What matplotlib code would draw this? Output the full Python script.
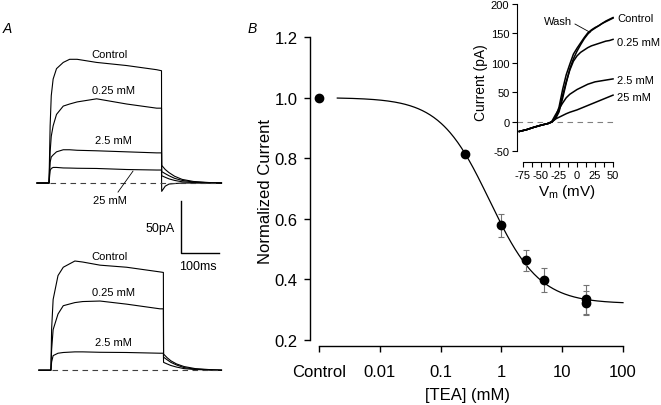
import matplotlib
matplotlib.use("Agg")
import matplotlib.pyplot as plt
import matplotlib.ticker as mticker
import numpy as np

plt.rcParams["font.family"] = ["Liberation Sans", "DejaVu Sans"]
plt.rcParams["mathtext.fontset"] = "custom"
plt.rcParams["mathtext.rm"] = "Liberation Sans"
plt.rcParams["axes.unicode_minus"] = False

W, H = 661, 406

# ---- panel A: current traces (ms, pA) ----
t_top = [-32, 0, 3, 6, 11, 20, 38, 55, 75, 127, 207, 287, 300, 300.5, 310, 320, 335, 355, 385, 425, 460]
top_control = [0, 0, 55, 84, 100, 110, 116, 119, 119, 116, 113, 109, 108, 17, 13, 10, 6.5, 3.5, 1.5, 0.5, 0]
top_025 = [0, 0, 30, 45, 55, 66, 74, 76, 78, 81, 76, 72, 72, 11, 9, 7, 4.5, 2.5, 1, 0.3, 0]
top_25 = [0, 0, 20, 25, 27, 30, 32, 32, 31.5, 31, 30, 29, 29, 7, 5.5, 4, 2.5, 1.2, 0.5, 0.2, 0]
top_250 = [0, 0, 12, 14, 15, 15, 14.5, 14.4, 14.2, 14, 13, 12.5, 12.5, -8, -3, -1, -0.5, 0, 0, 0, 0]

t_bot = [-32, 0, 2, 6, 19, 33, 64, 85, 131, 202, 291, 300, 300.5, 310, 320, 335, 355, 385, 425, 455]
bot_control = [0, 0, 40, 68, 91, 99, 105, 104, 101, 99, 94.5, 94, 15.5, 12, 9, 6, 3.5, 1.5, 0.5, 0]
bot_025 = [0, 0, 20, 39, 54, 62, 65, 66, 66.5, 63.5, 59, 59, 12.5, 10, 7.5, 5, 2.5, 1, 0.3, 0]
bot_25 = [0, 0, 8, 14, 16.3, 17, 17.6, 17.6, 17.2, 17, 16.3, 16.3, 7.5, 6, 4.5, 3, 1.5, 0.6, 0.2, 0]

# ---- panel B: dose response ----
conc = [0.25, 1, 2.5, 5, 25, 25]
norm_current = [0.815, 0.578, 0.463, 0.399, 0.334, 0.322]
norm_err = [0.01, 0.037, 0.035, 0.04, 0.047, 0.04]
control_x, control_y = 0.001, 1.0
hill_ic50, hill_n, hill_min = 0.64, 1.06, 0.32

# ---- inset: I-V curves ----
vm = [-80, -70, -60, -50, -40, -35, -30, -25, -20, -15, -10, -5, 0, 5, 10, 15, 20, 25, 30, 35, 40, 45, 50]
iv_control = [-16, -13, -9, -5.5, -2.5, 0, 8, 25, 55, 80, 98, 115, 125, 134, 143, 151, 156, 160, 163, 167, 171, 174, 177]
iv_wash = [-16, -13, -9, -5.5, -2.5, 0, 5, 17, 40, 66, 90, 107, 120, 131, 141, 149, 155, 159, 163, 167, 170, 173, 176]
iv_025 = [-16, -13, -9, -5.5, -2.5, 0, 7, 20, 45, 68, 88, 103, 112, 118, 122, 126, 129, 131, 133, 135, 137, 138, 140]
iv_25 = [-16, -13, -9, -5.5, -2.5, 1, 12, 22, 32, 41, 47, 51, 55, 58, 61, 64, 66, 68, 69, 70, 71, 72, 73]
iv_250 = [-16, -13, -9, -5.5, -2.5, 0, 5, 8, 11, 14, 16.5, 18.5, 20.5, 23, 25.5, 28, 30.5, 33, 35.5, 38, 40.5, 43, 45.5]


def fx(x, y):
    return x / W, 1 - y / H


fig = plt.figure(figsize=(W / 100, H / 100), dpi=100)

# panel A
ax_a = fig.add_axes([0, 0, 235 / W, 1])
ax_a.set_xlim(-130.7, 496)
ax_a.set_ylim(-213.5, 177)
ax_a.axis("off")
for trace in [top_control, top_025, top_25, top_250]:
    ax_a.plot(t_top, trace, color="black", lw=0.8)
bot_shift_t, bot_shift_i = 5, -180
for trace in [bot_control, bot_025, bot_25]:
    ax_a.plot(np.array(t_bot) + bot_shift_t, np.array(trace) + bot_shift_i, color="black", lw=0.8)
ax_a.plot([3, 456], [0, 0], color="0.25", lw=0.8, dashes=(5, 4))
ax_a.plot([8, 456], [bot_shift_i, bot_shift_i], color="0.25", lw=0.8, dashes=(5, 4))
ax_a.plot([184, 224], [-8.7, 11.5], color="black", lw=0.6)
# scale bar
ax_a.plot([352, 352, 452], [-17, -67, -67], color="black", lw=1.0)

for s, x, y in [("Control", 110, 55), ("0.25 mM", 113, 91), ("2.5 mM", 113, 141),
                ("25 mM", 110, 201), ("Control", 110, 257), ("0.25 mM", 114, 293),
                ("2.5 mM", 113, 343)]:
    fig.text(*fx(x, y), s, ha="center", va="center", fontsize=8)
fig.text(*fx(160, 229), "50pA", ha="center", va="center", fontsize=9)
fig.text(*fx(198, 267), "100ms", ha="center", va="center", fontsize=9)
fig.text(*fx(7, 29), "A", ha="center", va="center", fontsize=10, style="italic")
fig.text(*fx(252, 29), "B", ha="center", va="center", fontsize=10, style="italic")

# panel B
ax = fig.add_axes([310 / W, (H - 347) / H, 315 / W, 311 / H])
ax.set_xscale("log")
ax.set_xlim(7.11e-4, 107.9)
ax.set_ylim(0.1802, 1.2066)
xfit = np.logspace(np.log10(0.002), 2, 300)
yfit = hill_min + (1 - hill_min) / (1 + (xfit / hill_ic50) ** hill_n)
ax.plot(xfit, yfit, color="black", lw=0.9)
ax.errorbar(conc, norm_current, yerr=norm_err, fmt="none", ecolor="0.45",
            elinewidth=0.8, capsize=2.5, capthick=0.8)
ax.plot(conc, norm_current, "o", color="black", ms=6)
ax.plot([control_x], [control_y], "o", color="black", ms=6)
for s in ["top", "right"]:
    ax.spines[s].set_visible(False)
ax.spines["left"].set_bounds(0.2, 1.2)
ax.spines["bottom"].set_bounds(0.001, 100)
ax.spines["left"].set_linewidth(1.0)
ax.spines["bottom"].set_linewidth(1.0)
ax.set_xticks([0.001, 0.01, 0.1, 1, 10, 100])
ax.set_xticklabels(["Control", "0.01", "0.1", "1", "10", "100"])
ax.xaxis.set_minor_locator(mticker.NullLocator())
ax.set_yticks([0.2, 0.4, 0.6, 0.8, 1.0, 1.2])
ax.set_yticklabels(["0.2", "0.4", "0.6", "0.8", "1.0", "1.2"])
ax.tick_params(labelsize=12, length=4, width=1.0)
ax.tick_params(axis="y", pad=5)
ax.tick_params(axis="x", pad=9)
ax.set_xlabel("[TEA] (mM)", fontsize=12, labelpad=6)
ax.set_ylabel("Normalized Current", fontsize=12, labelpad=1)
ax.patch.set_alpha(0)

# inset
ins = fig.add_axes([517 / W, (H - 163) / H, 100 / W, 161 / H])
ins.set_xlim(-83.3, 55.5)
ins.set_ylim(-67.8, 205)
ins.axhline(0, color="0.5", lw=0.8, dashes=(5, 4))
for trace in [iv_control, iv_wash, iv_025, iv_25, iv_250]:
    ins.plot(vm, trace, color="black", lw=1.1)
for s in ["top", "right"]:
    ins.spines[s].set_visible(False)
ins.spines["left"].set_bounds(-50, 200)
ins.spines["bottom"].set_bounds(-75, 50)
ins.set_yticks([-50, 0, 50, 100, 150, 200])
ins.set_xticks([-75, -50, -25, 0, 25, 50])
ins.xaxis.set_minor_locator(mticker.MultipleLocator(12.5))
ins.tick_params(which="both", labelsize=8, length=3.5, width=0.8, pad=2)
ins.set_xlabel(r"V$_\mathregular{m}$ (mV)", fontsize=11, labelpad=2)
ins.set_ylabel("Current (pA)", fontsize=10, labelpad=2)
ins.patch.set_alpha(0)

for s, x, y in [("Control", 617, 19), ("0.25 mM", 617, 43), ("2.5 mM", 617, 81), ("25 mM", 617, 98)]:
    fig.text(*fx(x, y), s, ha="left", va="center", fontsize=8)
fig.text(*fx(558, 22), "Wash", ha="center", va="center", fontsize=8)
ins.plot([-2.8, 18], [166, 152], color="black", lw=0.6)

fig.savefig("out.png", dpi=100)
